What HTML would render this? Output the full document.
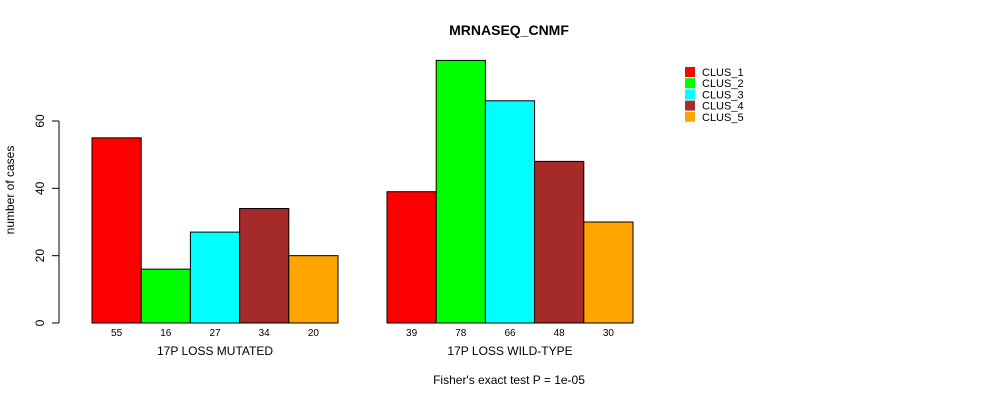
<!DOCTYPE html>
<html><head><style>
body{margin:0;background:#fff}
svg{font-family:"Liberation Sans",sans-serif}
</style></head><body>
<svg id="c" width="990" height="400" xmlns="http://www.w3.org/2000/svg">
<text x="509" y="35" font-size="14" font-weight="bold" text-anchor="middle">MRNASEQ_CNMF</text>
<text transform="translate(14,190) rotate(-90)" font-size="12" text-anchor="middle">number of cases</text>
<text x="509" y="384" font-size="12" text-anchor="middle">Fisher's exact test P = 1e-05</text>
<g id="axis"></g><g id="bars"></g><g id="legend"></g>
</svg>
<script>
const groups=["17P LOSS MUTATED","17P LOSS WILD-TYPE"];
const clusters=["CLUS_1","CLUS_2","CLUS_3","CLUS_4","CLUS_5"];
const colors=["#ff0000","#00ff00","#00ffff","#a52a2a","#ffa500"];
const mutated=[55,16,27,34,20];
const wildtype=[39,78,66,48,30];
const yTicks=[0,20,40,60];
const NS="http://www.w3.org/2000/svg";
const y0=323,pxPerUnit=(323-121)/60;
function y(v){return y0-v*pxPerUnit;}
function mk(t,a,p){const e=document.createElementNS(NS,t);for(const k in a)e.setAttribute(k,a[k]);p.appendChild(e);return e;}
const ax=document.getElementById('axis');
mk('line',{x1:59,x2:59,y1:y(0),y2:y(60),stroke:'#000'},ax);
yTicks.forEach(t=>{
 const l=mk('line',{x1:52,x2:59,y1:y(t),y2:y(t),stroke:'#000'},ax);
 
 
 const tx=mk('text',{transform:`translate(44,${y(t)}) rotate(-90)`,'font-size':12,'text-anchor':'middle'},ax);
 tx.textContent=t;
 
 
});
const bg=document.getElementById('bars');
const series=[mutated,wildtype];
const starts=[92,387],bw=49.2;
series.forEach((vals,gi)=>{
 vals.forEach((v,i)=>{
  const x=starts[gi]+i*bw;
  const r=mk('rect',{x:x,y:y(v),width:bw,height:y0-y(v),fill:colors[i],stroke:'#000','stroke-width':1},bg);
  
  
  const t=mk('text',{x:x+bw/2,y:336,'font-size':10,'text-anchor':'middle'},bg);
  t.textContent=v;
  
  
 });
 const g=mk('text',{x:starts[gi]+bw*2.5,y:355,'font-size':12,'text-anchor':'middle'},bg);
 g.textContent=groups[gi];
 
 
});
const lg=document.getElementById('legend');
clusters.forEach((c,i)=>{
 const r=mk('rect',{x:685,y:67+i*11.2,width:10,height:10,fill:colors[i]},lg);
 
 
 const t=mk('text',{x:702,y:76+i*11.2,'font-size':11},lg);
 t.textContent=c;
 
 
});
</script>
</body></html>
